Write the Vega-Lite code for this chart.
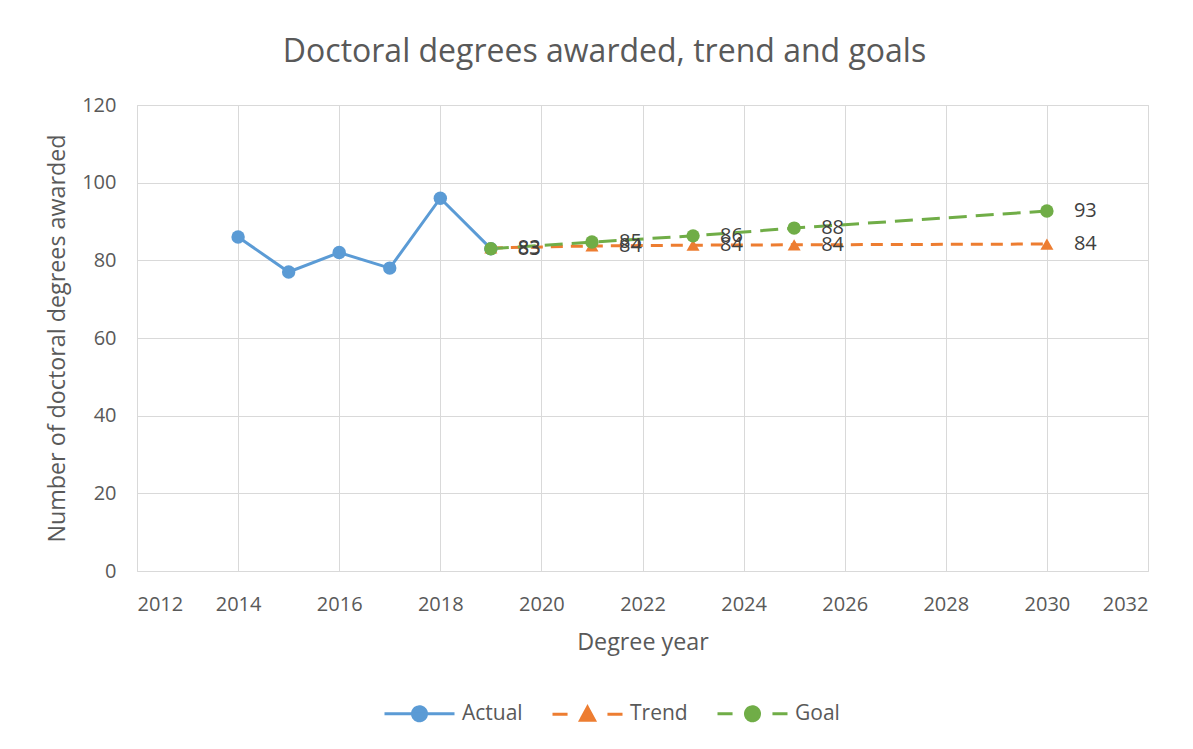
{
  "$schema": "https://vega.github.io/schema/vega-lite/v6.json",
  "autosize": "none",
  "width": 1011,
  "height": 466,
  "padding": {"left": 137, "top": 105, "right": 45, "bottom": 178},
  "background": "white",
  "title": {
    "text": "Doctoral degrees awarded, trend and goals",
    "font": "Open Sans",
    "fontSize": 32,
    "fontWeight": "normal",
    "color": "#595959",
    "anchor": "middle",
    "dx": -38,
    "offset": 26
  },
  "config": {
    "view": {"stroke": "#d9d9d9", "strokeWidth": 1},
    "axis": {
      "labelFont": "Open Sans",
      "labelFontSize": 20,
      "labelColor": "#595959",
      "titleFont": "Open Sans",
      "titleFontSize": 23.3,
      "titleFontWeight": "normal",
      "titleColor": "#595959",
      "gridColor": "#d9d9d9",
      "gridWidth": 1,
      "gridOpacity": 1,
      "domain": false,
      "ticks": false
    },
    "legend": {
      "labelFont": "Open Sans",
      "labelFontSize": 21,
      "labelColor": "#595959"
    }
  },
  "data": {
    "values": [
      {"year": 2014, "value": 86, "series": "Actual"},
      {"year": 2015, "value": 77, "series": "Actual"},
      {"year": 2016, "value": 82, "series": "Actual"},
      {"year": 2017, "value": 78, "series": "Actual"},
      {"year": 2018, "value": 96, "series": "Actual"},
      {"year": 2019, "value": 83, "series": "Actual"},
      {"year": 2019, "value": 83.2, "series": "Trend"},
      {"year": 2021, "value": 83.7, "series": "Trend"},
      {"year": 2023, "value": 83.9, "series": "Trend"},
      {"year": 2025, "value": 84.0, "series": "Trend"},
      {"year": 2030, "value": 84.2, "series": "Trend"},
      {"year": 2019, "value": 83.0, "series": "Goal"},
      {"year": 2021, "value": 84.7, "series": "Goal"},
      {"year": 2023, "value": 86.3, "series": "Goal"},
      {"year": 2025, "value": 88.3, "series": "Goal"},
      {"year": 2030, "value": 92.7, "series": "Goal"}
    ]
  },
  "encoding": {
    "x": {
      "field": "year",
      "type": "quantitative",
      "scale": {"domain": [2012, 2032], "nice": false, "zero": false},
      "axis": {
        "title": "Degree year",
        "values": [2012, 2014, 2016, 2018, 2020, 2022, 2024, 2026, 2028, 2030, 2032],
        "format": "d",
        "labelPadding": 23,
        "titlePadding": 17
      }
    },
    "y": {
      "field": "value",
      "type": "quantitative",
      "scale": {"domain": [0, 120], "nice": false},
      "axis": {
        "title": "Number of doctoral degrees awarded",
        "values": [0, 20, 40, 60, 80, 100, 120],
        "labelPadding": 21,
        "titlePadding": 12
      }
    },
    "color": {
      "field": "series",
      "type": "nominal",
      "scale": {"domain": ["Actual", "Trend", "Goal"], "range": ["#5B9BD5", "#ED7D31", "#70AD47"]},
      "legend": {
        "title": null,
        "orient": "none",
        "direction": "horizontal",
        "legendX": 246,
        "legendY": 572,
        "symbolSize": 4900,
        "symbolStrokeWidth": 3,
        "labelOffset": 6,
        "columnPadding": 23,
        "encode": {
          "symbols": {
            "update": {
              "shape": {"signal": "datum.value === 'Actual' ? 'M-1,0L1,0M-0.2,0A0.2,0.2 0 1,0 0.2,0A0.2,0.2 0 1,0 -0.2,0Z' : datum.value === 'Trend' ? 'M-1,0L-0.57,0M0.57,0L1,0M-0.2,0.17L0,-0.2L0.2,0.17Z' : 'M-1,0L-0.57,0M0.57,0L1,0M-0.2,0A0.2,0.2 0 1,0 0.2,0A0.2,0.2 0 1,0 -0.2,0Z'"},
              "stroke": {"scale": "color", "field": "value"},
              "fill": {"scale": "color", "field": "value"},
              "strokeWidth": {"value": 3},
              "strokeDash": {"value": [1, 0]},
              "opacity": {"value": 1}
            }
          }
        }
      }
    }
  },
  "layer": [
    {
      "transform": [{"filter": "datum.series === 'Actual'"}],
      "mark": {"type": "line", "strokeWidth": 3}
    },
    {
      "transform": [{"filter": "datum.series === 'Trend'"}],
      "mark": {"type": "line", "strokeWidth": 3, "strokeDash": [12, 8]}
    },
    {
      "transform": [{"filter": "datum.series === 'Goal'"}],
      "mark": {"type": "line", "strokeWidth": 3, "strokeDash": [18, 9]}
    },
    {
      "transform": [{"filter": "datum.series === 'Actual'"}],
      "mark": {"type": "point", "shape": "circle", "filled": true, "opacity": 1, "size": 180}
    },
    {
      "transform": [{"filter": "datum.series === 'Trend'"}],
      "mark": {"type": "point", "shape": "triangle-up", "filled": true, "opacity": 1, "size": 170}
    },
    {
      "transform": [{"filter": "datum.series === 'Goal'"}],
      "mark": {"type": "point", "shape": "circle", "filled": true, "opacity": 1, "size": 180}
    },
    {
      "transform": [{"filter": "datum.series !== 'Actual'"}],
      "mark": {"type": "text", "align": "left", "baseline": "middle", "dx": 27, "font": "Open Sans", "fontSize": 20, "color": "#404040"},
      "encoding": {
        "text": {"field": "value", "type": "quantitative", "format": ".0f"},
        "color": {"value": "#404040"}
      }
    }
  ]
}
